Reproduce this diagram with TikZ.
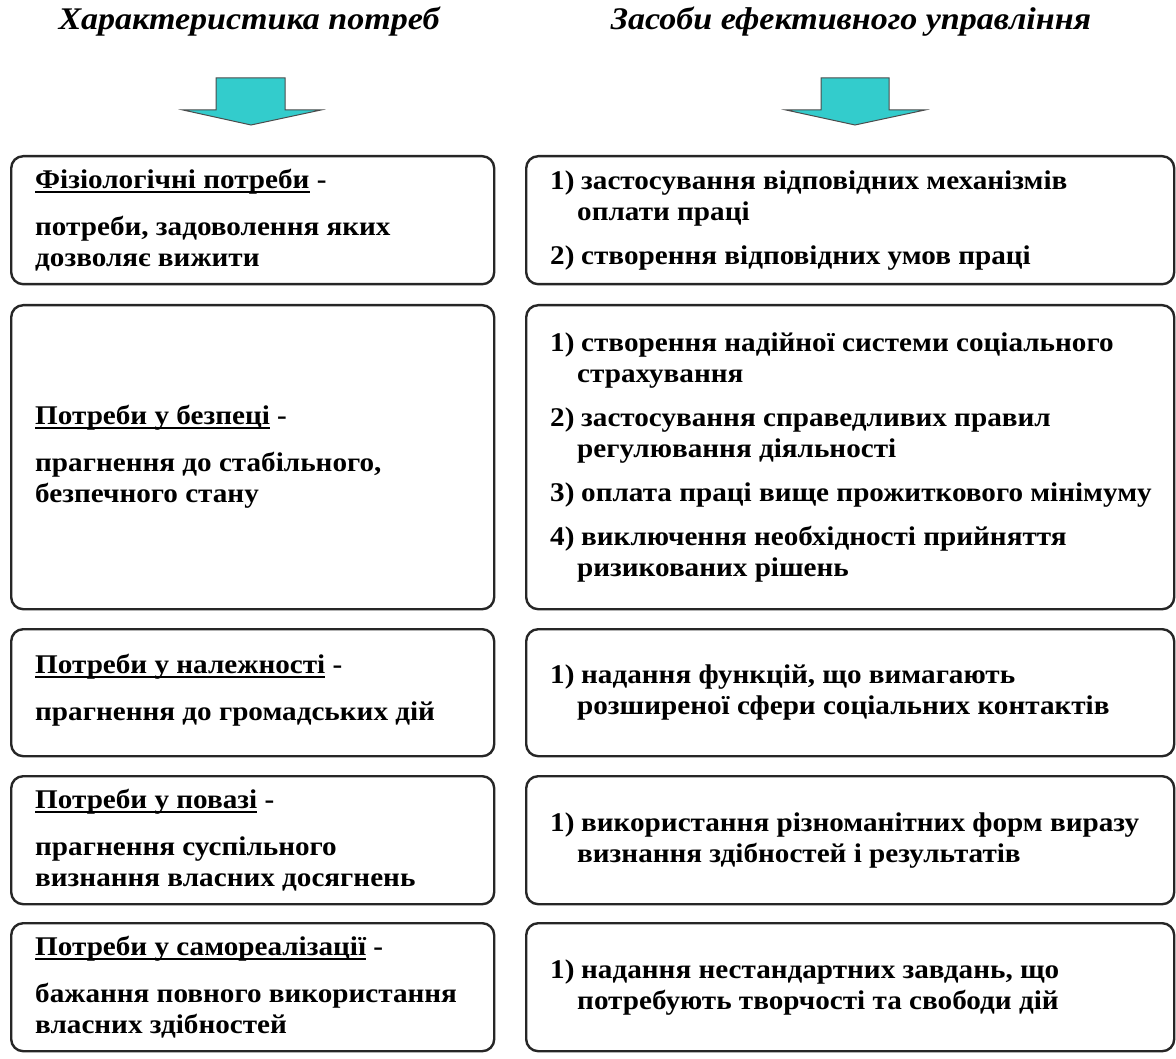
\documentclass[tikz,border=0pt]{standalone}
\usepackage{fontspec}
\setmainfont{Liberation Serif}[FakeStretch=1.08]
\definecolor{arrowfill}{HTML}{33CCCC}
% underline drawn just below the baseline, independent of descenders
\newcommand\undl[1]{\setbox0\hbox{#1}\rlap{\rule[-4pt]{\wd0}{1.8pt}}\box0{}}
% item number with a fixed-width gap, and the hanging indent of its continuation lines
\newcommand\itm[1]{\makebox[31pt][l]{#1)}}
\newcommand\hng{\hspace*{27pt}}
\begin{document}
\begin{tikzpicture}[x=1pt,y=1pt,
  card/.style={draw=black!85, line width=2.4pt, rounded corners=12pt,
    inner sep=0pt, anchor=north west},
  body/.style={anchor=west, align=left, inner sep=0pt,
    font=\fontsize{27}{31}\selectfont\bfseries},
  title/.style={inner sep=0pt, font=\fontsize{31.5}{36}\selectfont\bfseries\itshape},
  downarrow/.style={fill=arrowfill, draw=black!70, line width=1pt, line join=miter}
]
\useasboundingbox (0,0) rectangle (1176,-1059);

% column titles
\node[title] (tl) at (249,-22) {Характеристика потреб};
\node[title] (tr) at (851,-22) {Засоби ефективного управління};

% block arrows under the titles
\path[downarrow] (216,-78) -- (285,-78) -- (285,-110) -- (321,-110) -- (251,-125)
  -- (183,-110) -- (216,-110) -- cycle;
\path[downarrow] (821,-78) -- (889,-78) -- (889,-110) -- (925,-110) -- (855,-125)
  -- (786,-110) -- (821,-110) -- cycle;

% left column: needs
\node[card, minimum width=483pt, minimum height=128pt] (L1) at (10,-155) {};
\node[card, minimum width=483pt, minimum height=304pt] (L2) at (10,-304) {};
\node[card, minimum width=483pt, minimum height=127pt] (L3) at (10,-628) {};
\node[card, minimum width=483pt, minimum height=128pt] (L4) at (10,-775) {};
\node[card, minimum width=483pt, minimum height=128pt] (L5) at (10,-922) {};

% right column: means of management
\node[card, minimum width=648pt, minimum height=128pt] (R1) at (525,-155) {};
\node[card, minimum width=648pt, minimum height=304pt] (R2) at (525,-304) {};
\node[card, minimum width=648pt, minimum height=127pt] (R3) at (525,-628) {};
\node[card, minimum width=648pt, minimum height=128pt] (R4) at (525,-775) {};
\node[card, minimum width=648pt, minimum height=128pt] (R5) at (525,-922) {};

% left texts
\node[body] (L1t) at ([xshift=25pt]L1.west)
  {\undl{Фізіологічні потреби} -\\[16pt]потреби, задоволення яких\\дозволяє вижити};
\node[body] (L2t) at ([xshift=25pt]L2.west)
  {\undl{Потреби у безпеці} -\\[16pt]прагнення до стабільного,\\безпечного стану};
\node[body] (L3t) at ([xshift=25pt,yshift=2pt]L3.west)
  {\undl{Потреби у належності} -\\[16pt]прагнення до громадських дій};
\node[body] (L4t) at ([xshift=25pt]L4.west)
  {\undl{Потреби у повазі} -\\[16pt]прагнення суспільного\\визнання власних досягнень};
\node[body] (L5t) at ([xshift=25pt]L5.west)
  {\undl{Потреби у самореалізації} -\\[16pt]бажання повного використання\\власних здібностей};

% right texts
\node[body] (R1t) at ([xshift=25pt]R1.west)
  {\itm{1}застосування відповідних механізмів\\\hng оплати праці\\[13pt]%
   \itm{2}створення відповідних умов праці};
\node[body] (R2t) at ([xshift=25pt]R2.west)
  {\itm{1}створення надійної системи соціального\\\hng страхування\\[13pt]%
   \itm{2}застосування справедливих правил\\\hng регулювання діяльності\\[13pt]%
   \itm{3}оплата праці вище прожиткового мінімуму\\[13pt]%
   \itm{4}виключення необхідності прийняття\\\hng ризикованих рішень};
\node[body] (R3t) at ([xshift=25pt]R3.west)
  {\itm{1}надання функцій, що вимагають\\\hng розширеної сфери соціальних контактів};
\node[body] (R4t) at ([xshift=25pt]R4.west)
  {\itm{1}використання різноманітних форм виразу\\\hng визнання здібностей і результатів};
\node[body] (R5t) at ([xshift=25pt]R5.west)
  {\itm{1}надання нестандартних завдань, що\\\hng потребують творчості та свободи дій};
\end{tikzpicture}
\end{document}
